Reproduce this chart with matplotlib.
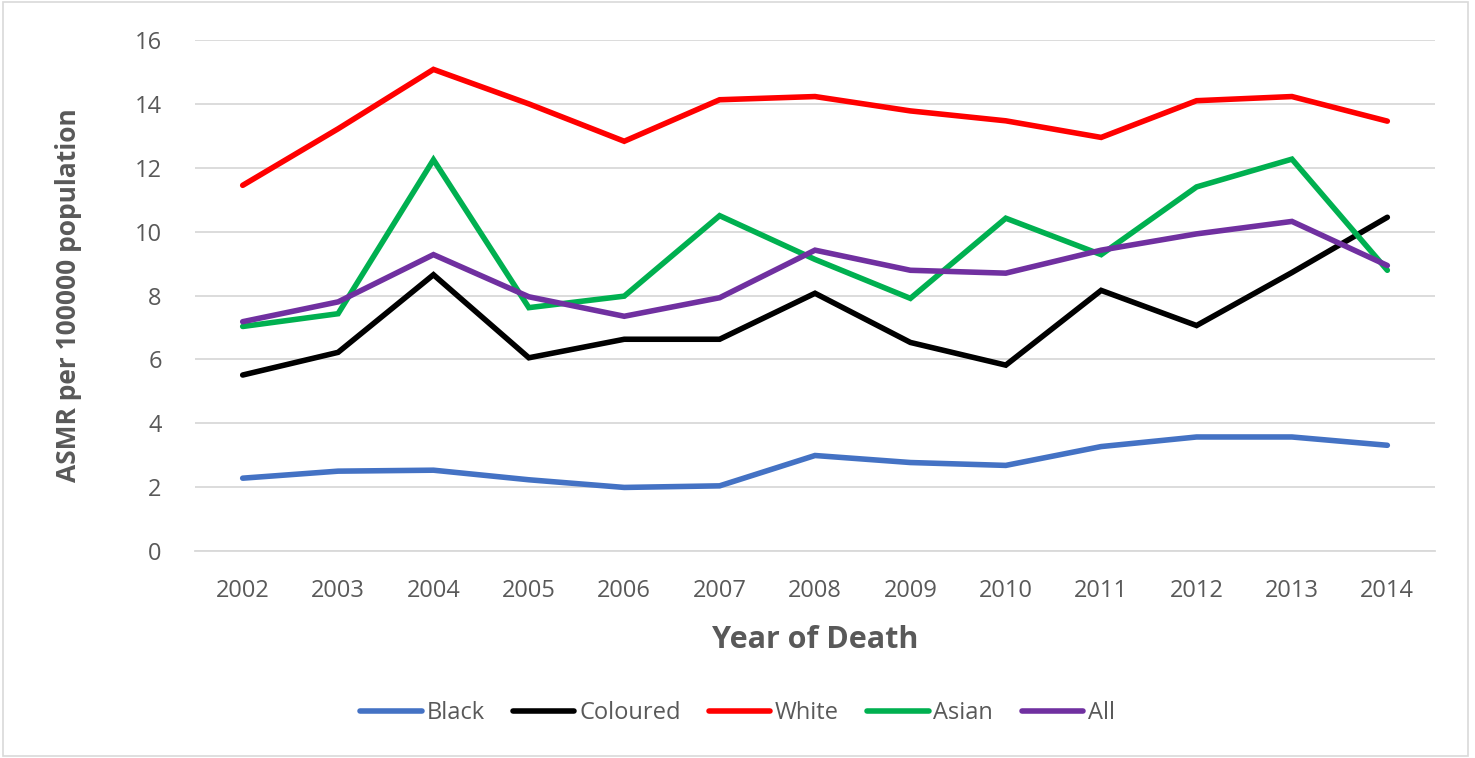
import matplotlib
matplotlib.use("Agg")
import matplotlib.pyplot as plt
from matplotlib.patches import Rectangle

plt.rcParams['font.family'] = ['Open Sans', 'DejaVu Sans']

# ASMR per 100000 population by year of death and population group
years = [2002, 2003, 2004, 2005, 2006, 2007, 2008, 2009, 2010, 2011, 2012, 2013, 2014]
black = [2.28, 2.50, 2.53, 2.23, 1.99, 2.04, 2.99, 2.77, 2.68, 3.27, 3.57, 3.57, 3.31]
coloured = [5.51, 6.22, 8.65, 6.05, 6.63, 6.63, 8.07, 6.53, 5.82, 8.16, 7.06, 8.72, 10.45]
white = [11.45, 13.22, 15.08, 14.00, 12.83, 14.13, 14.23, 13.78, 13.47, 12.95, 14.10, 14.23, 13.46]
asian = [7.03, 7.43, 12.25, 7.62, 7.98, 10.50, 9.13, 7.91, 10.42, 9.28, 11.40, 12.27, 8.79]
all_groups = [7.18, 7.80, 9.28, 7.96, 7.35, 7.93, 9.42, 8.79, 8.70, 9.42, 9.93, 10.32, 8.94]

series = [
    ('Black', black, '#4472C4'),
    ('Coloured', coloured, '#000000'),
    ('White', white, '#FF0000'),
    ('Asian', asian, '#00B050'),
    ('All', all_groups, '#7030A0'),
]

grey = '#595959'

fig = plt.figure(figsize=(14.75, 7.58), dpi=100)
ax = fig.add_axes([0.1322, 0.2731, 0.8407, 0.6741])

x = list(range(len(years)))
for name, vals, col in series:
    ax.plot(x, vals, color=col, lw=4.0, label=name, solid_capstyle='round',
            solid_joinstyle='miter')

ax.set_xlim(-0.5, len(years) - 0.5)
ax.set_ylim(0, 16)
ax.set_yticks(range(0, 17, 2))
ax.set_xticks(x)
ax.set_xticklabels([str(y) for y in years])

ax.grid(axis='y', color='#d9d9d9', lw=1.3)
ax.set_axisbelow(True)
for side in ['top', 'right', 'left']:
    ax.spines[side].set_visible(False)
ax.spines['bottom'].set_color('#d9d9d9')
ax.spines['bottom'].set_linewidth(1.3)
ax.tick_params(axis='both', length=0, labelsize=17, labelcolor=grey)
ax.tick_params(axis='x', pad=20)
ax.tick_params(axis='y', pad=24)

ax.set_xlabel('Year of Death', fontsize=22, fontweight='bold', color=grey, labelpad=16)
ax.set_ylabel('ASMR per 100000 population', fontsize=19, fontweight='bold', color=grey,
              labelpad=38)

fig.legend(loc='center', bbox_to_anchor=(0.5, 0.059), ncol=5, frameon=False,
           fontsize=17, labelcolor=grey, handlelength=2.6, handletextpad=0.2,
           columnspacing=1.2)

# light outline around the whole chart
fig.patches.append(Rectangle((0.002, 0.002), 0.993, 0.995, transform=fig.transFigure,
                             fill=False, edgecolor='#d9d9d9', lw=1.2))

fig.savefig('out.png', dpi=100, facecolor='white')
